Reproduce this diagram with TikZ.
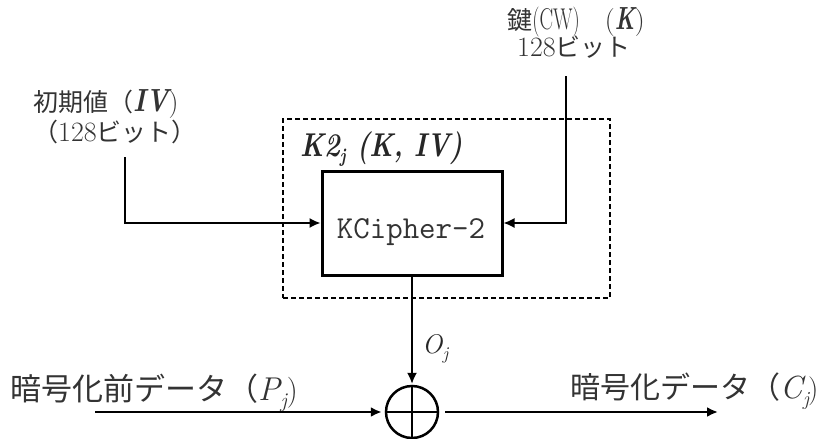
\documentclass[tikz,border=0pt]{standalone}
\usepackage{fontspec}
\newfontfamily\cjk{Noto Sans CJK JP}
\usetikzlibrary{arrows.meta}
\newcommand\dg[1]{{\rmfamily\fontsize{28}{28}\selectfont #1}}
% letter, subscript, drop, letter size, subscript size
\newcommand\itsub[5]{{\rmfamily\itshape\fontsize{#4}{#4}\selectfont #1\kern0.5pt\raisebox{-#3}{\fontsize{#5}{#5}\selectfont #2}}}
\begin{document}
\begin{tikzpicture}[x=1pt,y=-1pt,
  conn/.style={draw=black, line width=1.6pt},
  thickconn/.style={draw=black, line width=2.8pt},
  tipx/.style={-{Latex[length=11pt,width=10pt]}},
  jlbl/.style={inner sep=0, text=black!80},
]
\useasboundingbox (0,0) rectangle (822,439);

% frames
\node[draw, dash pattern=on 5pt off 3pt, line width=1.2pt, minimum width=327pt, minimum height=179pt, inner sep=0] (dbox) at (446.5,208.5) {};
\node[draw, line width=3pt, minimum width=180pt, minimum height=104pt, inner sep=0] (kc) at (412,223) {};
\node[anchor=base, inner sep=0, font=\ttfamily\fontsize{32}{32}\selectfont, text=black!80] (kct) at (411,238) {KCipher-2};
\node[anchor=base west, inner sep=0, font=\fontsize{33}{33}\selectfont\bfseries\itshape, text=black!85] (k2) at (300,156) {\scalebox{0.81}[1]{K2\raisebox{-6pt}{\fontsize{20}{20}\selectfont j} (K, IV)}};

% input labels
\node[jlbl, anchor=base west, font=\fontsize{25}{25}\selectfont] (iv1) at (33,111) {{\cjk 初期値（}\scalebox{0.83}[1]{\rmfamily\fontsize{32}{32}\selectfont\bfseries\itshape IV}{\rmfamily\fontsize{28}{28}\selectfont)}};
\node[jlbl, anchor=base west, font=\fontsize{25}{25}\selectfont] (iv2) at (33,141) {{\cjk （}\dg{128}{\cjk ビット）}};
\node[jlbl, anchor=base, font=\fontsize{25}{25}\selectfont] (kl1) at (576,29) {{\cjk 鍵}\scalebox{0.68}[1]{\rmfamily\fontsize{30}{30}\selectfont(CW)}{\cjk 　}{\rmfamily\fontsize{28}{28}\selectfont(\scalebox{0.7}[1]{\fontsize{32}{32}\selectfont\bfseries\itshape K})}};
\node[jlbl, anchor=base, font=\fontsize{25}{25}\selectfont] (kl2) at (574,56) {\dg{128}{\cjk ビット}};

% bottom labels
\node[jlbl, anchor=base west, font=\fontsize{31}{31}\selectfont] (pl) at (10,400) {{\cjk 暗号化前データ（}\itsub{P}{j}{7pt}{33}{21}{\rmfamily\fontsize{31}{31}\selectfont)}};
\node[jlbl, anchor=base west, font=\fontsize{30}{30}\selectfont] (cl) at (570,398) {{\cjk 暗号化データ（}\itsub{C}{j}{7pt}{32}{20}\kern-1pt{\rmfamily\fontsize{29}{29}\selectfont)}};
\node[anchor=base west, inner sep=0, text=black!85] (oj) at (422,353) {\itsub{O}{j}{6pt}{27}{18}};

% xor
\node[circle, draw, line width=2.5pt, minimum size=52pt, inner sep=0] (xor) at (412,412) {};
\draw[line width=2.5pt] (xor.north) -- (xor.south) (xor.west) -- (xor.east);

% connector ends
\coordinate (ivs) at (125,157);
\coordinate (ks) at (566,76);
\coordinate (pin) at (95,412);
\coordinate (cout) at (718,412);

\draw[conn, tipx] (ivs) |- (kc.west);
\draw[conn, tipx] (ks) |- (kc.east);
\draw[conn, tipx, shorten >=1pt] (kc.south) -- (xor.north);
\draw[thickconn, tipx, shorten >=3pt] (pin) -- (xor.west);
\draw[thickconn, tipx, shorten <=6pt] (xor.east) -- (cout);
\end{tikzpicture}
\end{document}
